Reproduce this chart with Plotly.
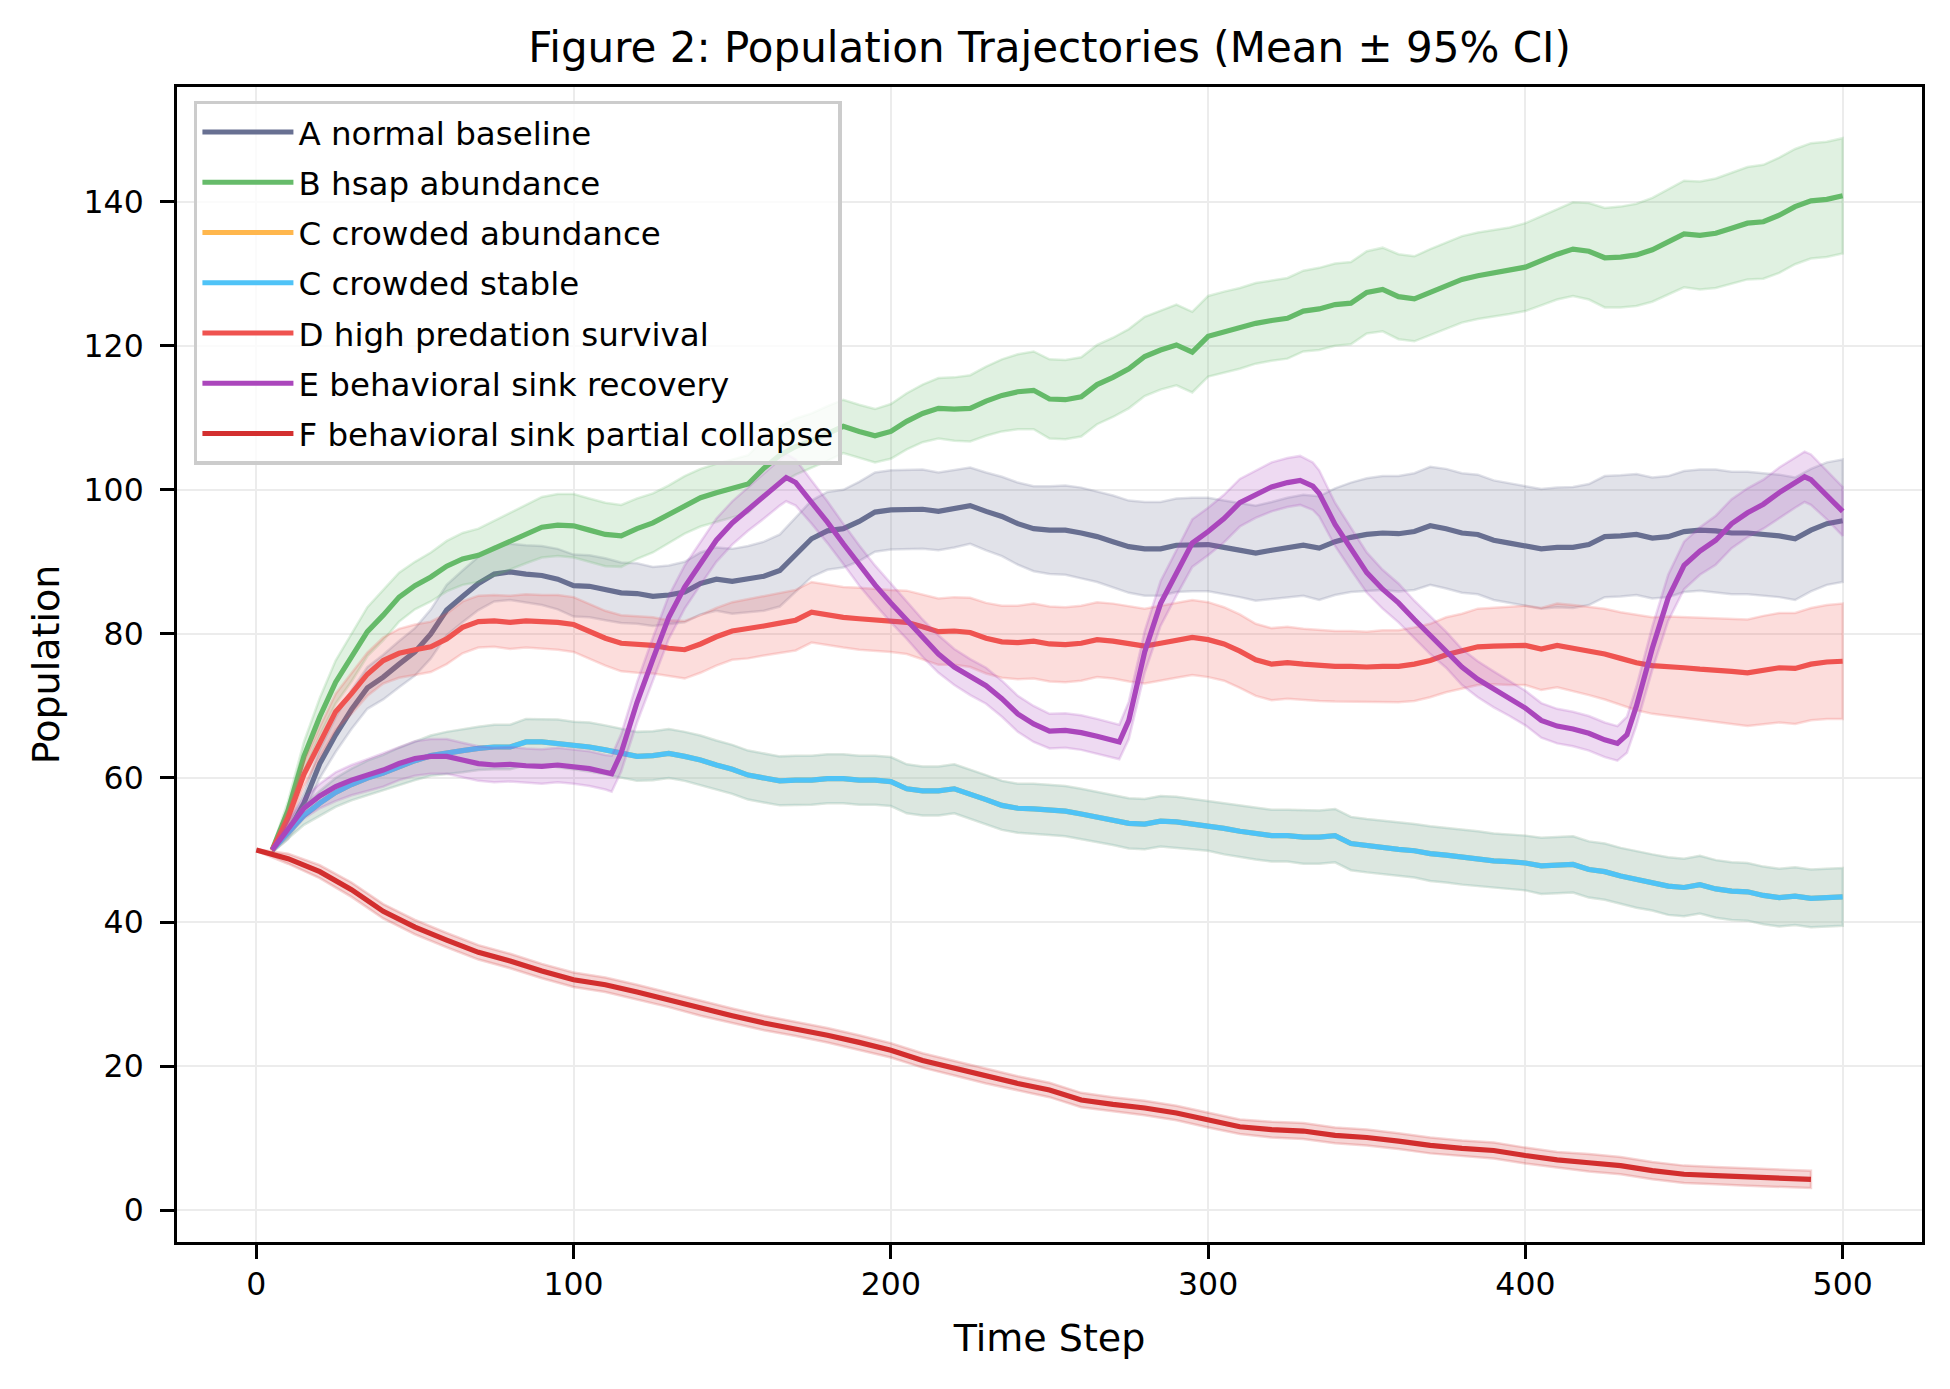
import plotly.graph_objects as go

# ---------------- data ----------------
steps = list(range(5, 501, 5))

a_mean = [50, 52.5, 56.5, 62, 66, 69.5, 72.5, 74, 75.8, 77.5,
          80, 83.3, 85.2, 87, 88.3, 88.6, 88.3, 88.1, 87.6, 86.7,
          86.6, 86.2, 85.7, 85.6, 85.2, 85.4, 85.8, 87, 87.6, 87.3,
          87.6, 88, 88.8, 91, 93.2, 94.3, 94.6, 95.6, 96.9, 97.2,
          97.3, 97.3, 97, 97.4, 97.8, 97, 96.3, 95.3, 94.6, 94.4,
          94.4, 94, 93.5, 92.8, 92.1, 91.8, 91.8, 92.3, 92.4, 92.4,
          92, 91.6, 91.2, 91.6, 92, 92.3, 91.9, 92.8, 93.4, 93.8,
          94, 93.9, 94.2, 95, 94.6, 94, 93.8, 93, 92.6, 92.2,
          91.8, 92, 92, 92.4, 93.5, 93.6, 93.8, 93.3, 93.5, 94.2,
          94.4, 94.3, 94, 94, 93.8, 93.6, 93.2, 94.4, 95.3, 95.7]
a_ci = [0.3, 1.0, 1.5, 2.0, 2.4, 2.7, 2.9, 3.1, 3.2, 3.3,
        3.4, 3.5, 3.6, 3.7, 3.8, 3.9, 4.0, 4.1, 4.2, 4.3,
        4.3, 4.3, 4.2, 4.2, 4.1, 4.1, 4.2, 4.3, 4.4, 4.5,
        4.6, 4.8, 5.0, 5.2, 5.3, 5.4, 5.4, 5.5, 5.5, 5.5,
        5.5, 5.5, 5.4, 5.4, 5.3, 5.4, 5.5, 5.7, 5.9, 6.1,
        6.2, 6.3, 6.3, 6.4, 6.4, 6.5, 6.5, 6.5, 6.5, 6.5,
        6.5, 6.5, 6.6, 6.7, 6.9, 7.0, 7.2, 7.4, 7.6, 7.8,
        7.9, 8.0, 8.1, 8.2, 8.3, 8.3, 8.3, 8.3, 8.3, 8.3,
        8.3, 8.3, 8.4, 8.4, 8.4, 8.4, 8.4, 8.4, 8.4, 8.4,
        8.4, 8.5, 8.5, 8.5, 8.5, 8.5, 8.5, 8.5, 8.5, 8.5]

b_mean = [50, 55.5, 63, 68.5, 73.3, 76.7, 80.3, 82.6, 85.1, 86.7,
          87.9, 89.4, 90.4, 90.9, 91.9, 92.8, 93.8, 94.8, 95.1, 95,
          94.4, 93.8, 93.6, 94.6, 95.4, 96.6, 97.9, 98.9, 99.6, 100.2,
          100.8, 103, 104.8, 106, 106.8, 107.8, 108.8, 108.1, 107.5, 108.1,
          109.5, 110.6, 111.3, 111.2, 111.3, 112.3, 113.1, 113.6, 113.8, 112.6,
          112.5, 112.9, 114.6, 115.6, 116.8, 118.5, 119.4, 120.1, 119.1, 121.3,
          121.9, 122.4, 123.1, 123.5, 123.8, 124.8, 125.1, 125.7, 125.9, 127.4,
          127.8, 126.8, 126.5, 127.4, 128.3, 129.2, 129.7, 130.1, 130.4, 130.9,
          131.8, 132.7, 133.4, 133.1, 132.2, 132.3, 132.6, 133.3, 134.4, 135.5,
          135.3, 135.6, 136.3, 137, 137.2, 138.1, 139.3, 140.1, 140.3, 140.8]
b_ci = [0.3, 1.3, 2.0, 2.6, 3.0, 3.3, 3.4, 3.5, 3.4, 3.3,
        3.4, 3.5, 3.6, 3.7, 3.8, 3.9, 4.0, 4.2, 4.3, 4.4,
        4.4, 4.4, 4.3, 4.2, 4.1, 4.0, 4.0, 4.0, 4.0, 4.0,
        4.0, 4.0, 4.0, 3.9, 3.8, 3.8, 3.7, 3.7, 3.7, 3.8,
        3.9, 4.0, 4.2, 4.4, 4.6, 4.8, 5.0, 5.2, 5.4, 5.5,
        5.5, 5.5, 5.5, 5.5, 5.5, 5.5, 5.5, 5.6, 5.6, 5.6,
        5.6, 5.6, 5.6, 5.6, 5.6, 5.6, 5.7, 5.7, 5.7, 5.7,
        5.8, 5.9, 5.9, 6.0, 6.0, 6.0, 6.0, 6.0, 6.0, 6.1,
        6.2, 6.3, 6.5, 6.7, 6.9, 7.0, 7.1, 7.2, 7.3, 7.4,
        7.5, 7.6, 7.7, 7.8, 7.9, 8.0, 8.0, 8.0, 8.0, 8.0]

c_mean = [50, 52.5, 54.8, 56.5, 58, 59.1, 60, 60.7, 61.6, 62.4,
          63.1, 63.5, 63.8, 64.1, 64.3, 64.3, 65, 65, 64.8, 64.5,
          64.3, 63.9, 63.5, 63, 63.1, 63.4, 63, 62.5, 61.8, 61.2,
          60.4, 60, 59.6, 59.7, 59.7, 59.9, 59.9, 59.7, 59.7, 59.5,
          58.5, 58.2, 58.2, 58.5, 57.8, 57, 56.2, 55.8, 55.7, 55.6,
          55.4, 55, 54.6, 54.2, 53.7, 53.6, 54, 53.9, 53.6, 53.4,
          53, 52.6, 52.3, 52, 52, 51.8, 51.8, 52, 50.9, 50.6,
          50.4, 50.1, 49.9, 49.5, 49.3, 49, 48.8, 48.5, 48.4, 48.2,
          47.8, 47.9, 48, 47.3, 47, 46.4, 45.9, 45.5, 45, 44.8,
          45.2, 44.6, 44.3, 44.2, 43.7, 43.4, 43.6, 43.3, 43.4, 43.5]
c_ci = [0.3, 0.9, 1.3, 1.7, 2.0, 2.2, 2.4, 2.5, 2.6, 2.7,
        2.8, 2.9, 3.0, 3.0, 3.1, 3.1, 3.2, 3.2, 3.3, 3.3,
        3.4, 3.4, 3.4, 3.4, 3.4, 3.4, 3.4, 3.4, 3.4, 3.4,
        3.4, 3.4, 3.4, 3.4, 3.4, 3.4, 3.4, 3.4, 3.4, 3.4,
        3.4, 3.4, 3.4, 3.4, 3.4, 3.4, 3.4, 3.4, 3.5, 3.5,
        3.5, 3.5, 3.5, 3.5, 3.5, 3.5, 3.5, 3.5, 3.5, 3.5,
        3.6, 3.6, 3.6, 3.6, 3.6, 3.7, 3.7, 3.7, 3.7, 3.7,
        3.7, 3.7, 3.7, 3.8, 3.8, 3.8, 3.8, 3.8, 3.8, 3.8,
        3.9, 3.9, 3.9, 3.9, 3.9, 3.9, 3.9, 3.9, 4.0, 4.0,
        4.0, 4.0, 4.0, 4.0, 4.0, 4.0, 4.0, 4.0, 4.0, 4.0]

d_mean = [50, 54.5, 60.5, 65, 69.2, 71.7, 74.4, 76.3, 77.3, 77.8,
          78.2, 79.3, 80.9, 81.7, 81.8, 81.6, 81.8, 81.7, 81.6, 81.3,
          80.4, 79.4, 78.7, 78.5, 78.4, 78, 77.8, 78.6, 79.6, 80.4,
          80.7, 81.1, 81.5, 81.9, 83, 82.6, 82.3, 82.1, 81.9, 81.8,
          81.6, 81, 80.3, 80.4, 80.2, 79.4, 78.9, 78.8, 79, 78.6,
          78.5, 78.7, 79.2, 79, 78.6, 78.3, 78.7, 79.1, 79.5, 79.2,
          78.6, 77.6, 76.4, 75.8, 76, 75.8, 75.6, 75.5, 75.5, 75.4,
          75.5, 75.5, 75.8, 76.3, 77.1, 77.6, 78.2, 78.3, 78.3, 78.4,
          77.9, 78.4, 78, 77.6, 77.2, 76.6, 76, 75.6, 75.5, 75.3,
          75.1, 75, 74.8, 74.6, 75, 75.3, 75.2, 75.8, 76.1, 76.2]
d_ci = [0.3, 1.1, 1.7, 2.1, 2.5, 2.8, 3.0, 3.2, 3.4, 3.5,
        3.5, 3.5, 3.6, 3.6, 3.6, 3.7, 3.7, 3.7, 3.8, 3.8,
        3.8, 3.8, 3.9, 3.9, 3.9, 3.9, 4.0, 4.0, 4.0, 4.0,
        4.1, 4.1, 4.1, 4.2, 4.2, 4.2, 4.2, 4.3, 4.3, 4.3,
        4.4, 4.5, 4.6, 4.7, 4.8, 4.9, 5.0, 5.1, 5.2, 5.2,
        5.2, 5.2, 5.2, 5.2, 5.2, 5.2, 5.2, 5.2, 5.2, 5.2,
        5.1, 5.1, 5.0, 5.0, 5.0, 4.9, 4.9, 4.9, 4.9, 4.9,
        5.0, 5.0, 5.1, 5.1, 5.2, 5.2, 5.3, 5.3, 5.4, 5.5,
        5.7, 5.8, 6.0, 6.1, 6.3, 6.4, 6.6, 6.7, 6.9, 7.0,
        7.1, 7.2, 7.3, 7.4, 7.5, 7.6, 7.7, 7.8, 7.9, 8.0]

e_steps = [5, 10, 15, 20, 25, 30, 35, 40, 45, 50,
           55, 60, 65, 70, 75, 80, 85, 90, 95, 100,
           105, 110, 112, 115, 120, 125, 130, 135, 140, 145,
           150, 155, 160, 165, 167, 170, 175, 180, 185, 190,
           195, 200, 205, 210, 215, 220, 225, 230, 235, 240,
           245, 250, 255, 260, 265, 270, 272, 275, 280, 285,
           290, 295, 300, 305, 310, 315, 320, 325, 329, 333,
           335, 340, 345, 350, 355, 360, 365, 370, 375, 380,
           385, 390, 395, 400, 405, 410, 415, 420, 425, 429,
           432, 435, 440, 445, 450, 455, 460, 465, 470, 475,
           480, 485, 488, 490, 495, 500]
e_mean = [50, 53, 55.8, 57.5, 58.8, 59.7, 60.4, 61.1, 62, 62.7,
          63, 63, 62.5, 62, 61.8, 61.9, 61.7, 61.6, 61.8, 61.6,
          61.3, 60.8, 60.6, 63.5, 70.5, 76.5, 82.3, 86.5, 89.8, 93,
          95.4, 97.3, 99.1, 101, 101.7, 101, 98.3, 95.5, 92.5, 89.5,
          86.8, 84.3, 81.9, 79.4, 77.2, 75.4, 74, 72.8, 71, 68.9,
          67.5, 66.5, 66.6, 66.3, 65.8, 65.2, 65, 68, 77.5, 84.2,
          88.5, 92.6, 94.2, 96, 98.2, 99.4, 100.4, 101, 101.3, 100.5,
          99.5, 95.2, 91.8, 88.5, 86.2, 84.3, 82, 79.8, 77.8, 75.4,
          73.7, 72.3, 71, 69.7, 68, 67.2, 66.8, 66.2, 65.3, 64.8,
          66, 70, 78, 85, 89.5, 91.5, 93, 95.3, 96.8, 98,
          99.6, 101, 101.8, 101.4, 99.3, 97]
e_ci = [0.3, 1.0, 1.4, 1.7, 2.0, 2.1, 2.2, 2.3, 2.3, 2.4,
        2.4, 2.4, 2.4, 2.4, 2.4, 2.4, 2.4, 2.4, 2.4, 2.4,
        2.4, 2.4, 2.5, 2.6, 2.8, 3.0, 3.0, 3.0, 3.0, 3.0,
        3.0, 3.0, 3.1, 3.2, 3.3, 3.2, 3.0, 2.9, 2.8, 2.8,
        2.7, 2.7, 2.6, 2.6, 2.6, 2.5, 2.5, 2.5, 2.5, 2.5,
        2.5, 2.4, 2.4, 2.4, 2.4, 2.4, 2.4, 2.6, 2.9, 3.1,
        3.2, 3.3, 3.3, 3.3, 3.3, 3.3, 3.4, 3.4, 3.4, 3.3,
        3.2, 3.0, 2.9, 2.8, 2.7, 2.7, 2.6, 2.6, 2.5, 2.5,
        2.5, 2.5, 2.4, 2.4, 2.4, 2.4, 2.4, 2.4, 2.4, 2.4,
        2.5, 2.7, 3.0, 3.2, 3.3, 3.3, 3.4, 3.4, 3.4, 3.4,
        3.5, 3.5, 3.5, 3.5, 3.4, 3.4]

f_steps = list(range(0, 491, 10))
f_mean = [50, 48.8, 47, 44.5, 41.5, 39.3, 37.5, 35.8, 34.6, 33.2,
          32, 31.3, 30.3, 29.2, 28, 27, 26, 25.2, 24.3, 23.3,
          22.2, 20.8, 19.7, 18.6, 17.6, 16.7, 15.3, 14.7, 14.2, 13.5,
          12.5, 11.6, 11.2, 11, 10.4, 10.1, 9.6, 9, 8.6, 8.3,
          7.6, 7, 6.6, 6.2, 5.5, 5, 4.8, 4.6, 4.4, 4.3]
f_ci = [0.1, 0.7, 0.9, 1.0, 1.0, 1.0, 1.0, 1.0, 1.0, 1.0,
        1.0, 1.0, 1.0, 1.0, 1.0, 1.0, 1.0, 1.0, 1.0, 1.0,
        1.0, 1.0, 1.0, 1.0, 1.0, 1.0, 1.0, 1.0, 1.0, 1.0,
        1.0, 1.0, 1.1, 1.1, 1.1, 1.1, 1.1, 1.1, 1.1, 1.1,
        1.1, 1.1, 1.2, 1.2, 1.2, 1.2, 1.2, 1.2, 1.2, 1.2]

labels = ["A normal baseline", "B hsap abundance", "C crowded abundance",
          "C crowded stable", "D high predation survival",
          "E behavioral sink recovery", "F behavioral sink partial collapse"]
colors = ["#687092", "#66bb6a", "#ffb74d", "#4fc3f7", "#ef5350", "#ab47bc", "#d32f2f"]

series = [
    (steps, a_mean, a_ci),
    (steps, b_mean, b_ci),
    (steps, c_mean, c_ci),   # crowded abundance (identical to stable, hidden below)
    (steps, c_mean, c_ci),
    (steps, d_mean, d_ci),
    (e_steps, e_mean, e_ci),
    (f_steps, f_mean, f_ci),
]

FONT = "DejaVu Sans"


def rgba(hex_color, a):
    h = hex_color.lstrip("#")
    r, g, b = int(h[0:2], 16), int(h[2:4], 16), int(h[4:6], 16)
    return f"rgba({r},{g},{b},{a})"


fig = go.Figure()
for i, ((xs, m, ci), lab, col) in enumerate(zip(series, labels, colors)):
    fig.add_trace(go.Scatter(
        x=xs, y=m, mode="lines", name=lab,
        line=dict(color=col, width=5.2), legendgroup=f"g{i}", showlegend=True,
    ))
    upper = [v + h for v, h in zip(m, ci)]
    lower = [v - h for v, h in zip(m, ci)]
    fig.add_trace(go.Scatter(
        x=list(xs) + list(xs)[::-1], y=upper + lower[::-1],
        mode="lines", fill="toself", fillcolor=rgba(col, 0.2),
        line=dict(color=rgba(col, 0.2), width=2.5),
        legendgroup=f"g{i}", showlegend=False, hoverinfo="skip",
    ))

axis_common = dict(
    showline=True, linecolor="black", linewidth=3, mirror=True,
    ticks="outside", ticklen=14, tickwidth=3, tickcolor="black",
    showgrid=True, gridcolor="#ececec", gridwidth=2, zeroline=False,
    tickfont=dict(family=FONT, size=31.5, color="black"),
)

fig.update_layout(
    width=1950, height=1389,
    margin=dict(l=177, r=28, t=87, b=147, autoexpand=False),
    paper_bgcolor="white", plot_bgcolor="white",
    font=dict(family=FONT, color="black"),
    title=dict(text="Figure 2: Population Trajectories (Mean ± 95% CI)",
               font=dict(family=FONT, size=42, color="black"),
               x=0.5, xref="paper", xanchor="center",
               y=1 - 47 / 1389, yref="container", yanchor="middle"),
    xaxis=dict(range=[-25, 525], tickvals=[0, 100, 200, 300, 400, 500],
               title=dict(text="Time Step", font=dict(family=FONT, size=38), standoff=24),
               ticklabelstandoff=-2, **axis_common),
    yaxis=dict(range=[-4.4, 155.9], tickvals=[0, 20, 40, 60, 80, 100, 120, 140],
               title=dict(text="Population", font=dict(family=FONT, size=38), standoff=13),
               ticklabelstandoff=10, **axis_common),
    legend=dict(x=0.0097, y=0.988, xanchor="left", yanchor="top",
                bgcolor="rgba(255,255,255,0.8)", bordercolor="#cccccc", borderwidth=3.5,
                font=dict(family=FONT, size=32.5, color="black"),
                traceorder="grouped", tracegroupgap=5, itemwidth=91),
    showlegend=True,
)

fig.write_html("out.html", config={"displayModeBar": False},
               post_script="document.body.style.margin='0px';")
